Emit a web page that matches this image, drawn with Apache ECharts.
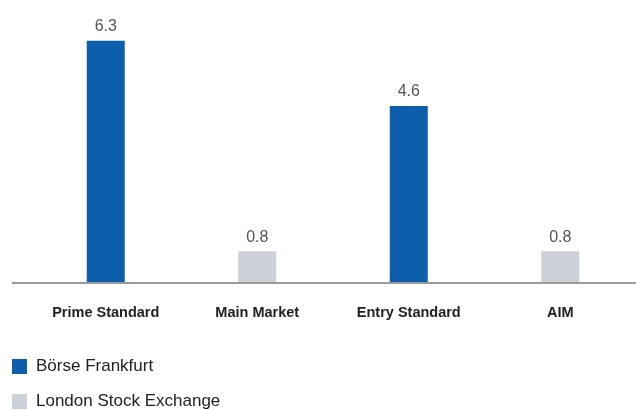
<!DOCTYPE html>
<html>
<head>
<meta charset="utf-8">
<script src="https://cdn.jsdelivr.net/npm/echarts@6/dist/echarts.min.js"></script>
<style>html,body{margin:0;padding:0;background:#fff}#c{width:636px;height:410px}</style>
</head>
<body>
<div id="c"></div>
<script>
const categories = ['Prime Standard', 'Main Market', 'Entry Standard', 'AIM'];
const frankfurt = [6.3, null, 4.6, null];
const london = [null, 0.8, null, 0.8];
const seriesNames = ['Börse Frankfurt', 'London Stock Exchange'];

const chart = echarts.init(document.getElementById('c'));
const gridBottom = 128;
const labelStyle = { show: true, position: 'top', distance: 6, color: '#555', fontSize: 16, fontFamily: 'Liberation Sans', formatter: p => p.value.toFixed(1) };
const legendBase = {
  left: 12, padding: 0, itemWidth: 15, itemHeight: 15, itemGap: 10, icon: 'rect',
  textStyle: { fontSize: 17, color: '#222', fontFamily: 'Liberation Sans', padding: [0, 0, 0, 4] }
};
chart.setOption({
  animation: false,
  color: ['#0d5eab', '#ccd0d7'],
  grid: { left: 30, right: 0, top: 14, bottom: gridBottom },
  legend: [
    Object.assign({}, legendBase, { top: 358, data: [seriesNames[0]] }),
    Object.assign({}, legendBase, { top: 393, data: [seriesNames[1]] })
  ],
  xAxis: {
    type: 'category', data: categories,
    axisLine: { show: false }, axisTick: { show: false },
    axisLabel: { fontSize: 14.5, fontWeight: 'bold', color: '#222', fontFamily: 'Liberation Sans', margin: 23 }
  },
  yAxis: { type: 'value', min: 0, max: 7, show: false, splitLine: { show: false } },
  graphic: [{
    type: 'line', z: 100,
    shape: { x1: 12, y1: 283, x2: 636, y2: 283 },
    style: { stroke: '#7a7a7a', lineWidth: 1.6 }
  }],
  series: [
    { name: seriesNames[0], type: 'bar', stack: 's', barWidth: 38, data: frankfurt, label: labelStyle },
    { name: seriesNames[1], type: 'bar', stack: 's', barWidth: 38, data: london, label: labelStyle }
  ]
});
</script>
</body>
</html>
